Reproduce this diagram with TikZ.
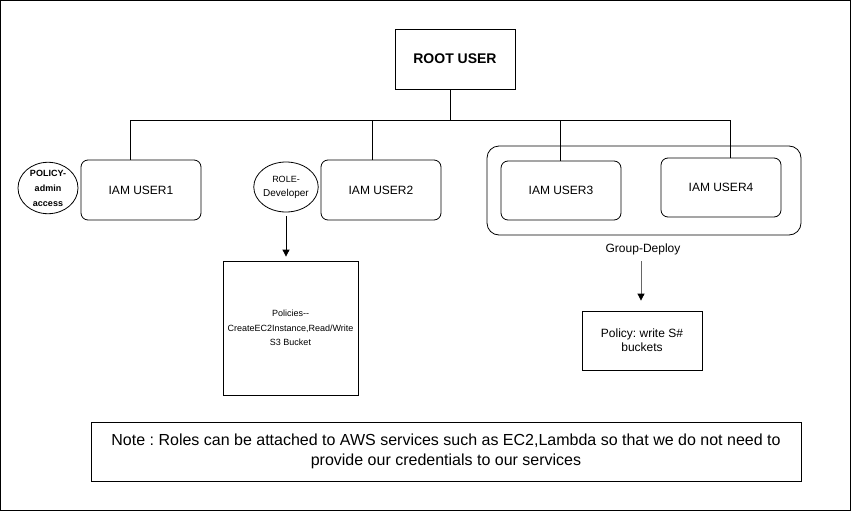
\documentclass[tikz,border=0pt]{standalone}
\usepackage{fontspec}
\setmainfont{Liberation Sans}
\usetikzlibrary{arrows.meta,shapes.geometric}
\frenchspacing

\tikzset{
  userbox/.style={draw, line width=0.8pt, rounded corners=7pt, minimum width=120pt, minimum height=60pt, inner sep=0pt, font=\fontsize{12}{14}\selectfont},
  plainbox/.style={draw, line width=0.8pt, inner sep=0pt, align=center},
  tag/.style={draw, line width=0.8pt, ellipse, minimum width=60pt, minimum height=50pt, inner sep=0pt, align=center},
  link/.style={draw, line width=0.8pt},
  flow/.style={-{Triangle[length=7pt,width=7pt,color=black]}, line width=0.8pt}
}

\begin{document}
\begin{tikzpicture}[x=1pt, y=-1pt]
        \useasboundingbox (0,0) rectangle (851,511);
        \draw[line width=0.8pt] (0.8,0.8) rectangle (850.2,510.2);

        \node[plainbox, minimum width=120pt, minimum height=60pt, font=\fontsize{14}{16}\selectfont\bfseries] (root) at (455,59) {ROOT USER};
        \coordinate (bus) at (450,120);
        \draw[link] ([xshift=-5pt]root.south) -- (bus);

        \node[userbox] (u1) at (141,190) {IAM USER1};
        \node[userbox] (u2) at (381,190) {IAM USER2};
        \node[draw, rounded corners=12pt, minimum width=314pt, minimum height=89pt, line width=0.8pt] (grp) at (644,190.5) {};
        \node[userbox, minimum height=59pt] (u3) at (561,190.5) {IAM USER3};
        \node[userbox, minimum height=59pt] (u4) at (721,187.5) {IAM USER4};

        \draw[link] (bus) -| ([xshift=-11pt]u1.north);
        \draw[link] (bus) -| ([xshift=-9pt]u2.north);
        \draw[link] (bus) -| ([xshift=-1pt]u3.north);
        \draw[link] (bus) -| ([xshift=9pt]u4.north);

        \node[tag, font=\fontsize{9}{15}\selectfont\bfseries] (pol) at (48,188) {POLICY-\\admin\\access};
        \node[tag, font=\fontsize{10}{14}\selectfont] (role) at (286,187) {{\fontsize{9}{14}\selectfont ROLE-}\\Developer};

        \node[plainbox, minimum width=135pt, minimum height=134pt, font=\fontsize{9}{14.5}\selectfont] (rpol) at (290.5,328) {Policies{-}{-}\\CreateEC2Instance,Read/Write\\S3 Bucket};
        \draw[flow] ([yshift=-4pt]role.south) -- ([yshift=4pt]role.south |- rpol.north);

        \node[font=\fontsize{12}{14}\selectfont] (glabel) at (643,249) {Group-Deploy};
        \node[plainbox, minimum width=120pt, minimum height=59pt, font=\fontsize{12}{14}\selectfont] (gpol) at (642,340.5) {Policy: write S\#\\buckets};
        \draw[flow, draw=black!60] ([xshift=-2pt,yshift=-3pt]glabel.south) -- ([xshift=-2pt,yshift=10pt]glabel.south |- gpol.north);

        \node[plainbox, minimum width=710pt, minimum height=59pt, font=\fontsize{16}{20}\selectfont] (note) at (446,451.5) {Note : Roles can be attached to AWS services such as EC2,Lambda so that we do not need to\\provide our credentials to our services};
      \end{tikzpicture}
\end{document}
